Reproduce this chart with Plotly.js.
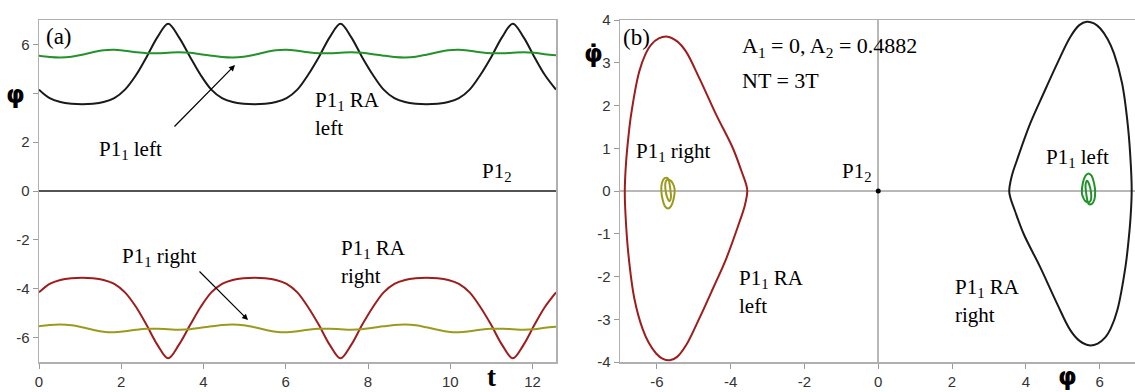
<!DOCTYPE html>
<html><head><meta charset="utf-8">
<script src="https://cdn.plot.ly/plotly-3.0.1.min.js"></script>
<style>html,body{margin:0;padding:0;background:#fff}#chart{width:1135px;height:392px}</style>
</head><body><div id="chart"></div>
<script>
// ---- Panel (a): time series, t in [0, 4*pi] ----
const tVals = [0.00,0.26,0.52,0.79,1.05,1.31,1.57,1.83,2.09,2.36,2.62,2.88,3.14,3.40,3.67,3.93,
  4.19,4.45,4.71,4.97,5.24,5.50,5.76,6.02,6.28,6.54,6.81,7.07,7.33,7.59,7.85,8.12,
  8.38,8.64,8.90,9.16,9.42,9.69,9.95,10.21,10.47,10.73,11.00,11.26,11.52,11.78,12.04,12.30,12.57];
const raLeft = [4.15,3.80,3.64,3.57,3.55,3.57,3.64,3.80,4.15,4.75,5.50,6.30,6.85,6.30,5.50,4.75,
  4.15,3.80,3.64,3.57,3.55,3.57,3.64,3.80,4.15,4.75,5.50,6.30,6.85,6.30,5.50,4.75,
  4.15,3.80,3.64,3.57,3.55,3.57,3.64,3.80,4.15,4.75,5.50,6.30,6.85,6.30,5.50,4.75,4.15];
const raRight = [-4.15,-3.80,-3.64,-3.57,-3.55,-3.57,-3.64,-3.80,-4.15,-4.75,-5.50,-6.30,-6.85,-6.30,-5.50,-4.75,
  -4.15,-3.80,-3.64,-3.57,-3.55,-3.57,-3.64,-3.80,-4.15,-4.75,-5.50,-6.30,-6.85,-6.30,-5.50,-4.75,
  -4.15,-3.80,-3.64,-3.57,-3.55,-3.57,-3.64,-3.80,-4.15,-4.75,-5.50,-6.30,-6.85,-6.30,-5.50,-4.75,-4.15];
const p1Left = [5.54,5.49,5.47,5.50,5.58,5.68,5.76,5.78,5.74,5.68,5.64,5.64,5.66,5.68,5.66,5.60,
  5.54,5.49,5.47,5.50,5.58,5.68,5.76,5.78,5.74,5.68,5.64,5.64,5.66,5.68,5.66,5.60,
  5.54,5.49,5.47,5.50,5.58,5.68,5.76,5.78,5.74,5.68,5.64,5.64,5.66,5.68,5.66,5.60,5.56];
const p1Right = [-5.54,-5.49,-5.47,-5.50,-5.58,-5.68,-5.76,-5.78,-5.74,-5.68,-5.64,-5.64,-5.66,-5.68,-5.66,-5.60,
  -5.54,-5.49,-5.47,-5.50,-5.58,-5.68,-5.76,-5.78,-5.74,-5.68,-5.64,-5.64,-5.66,-5.68,-5.66,-5.60,
  -5.54,-5.49,-5.47,-5.50,-5.58,-5.68,-5.76,-5.78,-5.74,-5.68,-5.64,-5.64,-5.66,-5.68,-5.66,-5.60,-5.56];
const p12T = [0, 12.57];
const p12Phi = [0, 0];

// ---- Panel (b): phase portrait ----
const raRightPhi = [3.55,3.62,3.76,4.12,4.48,4.85,5.21,5.45,5.65,5.85,6.02,6.22,6.39,6.61,6.77,6.85,6.87,
  6.84,6.78,6.70,6.48,6.30,6.16,5.95,5.71,5.45,5.21,4.85,4.39,3.94,3.70,3.58,3.55];
const raRightDot = [0.00,0.35,0.72,1.58,2.28,2.98,3.61,3.88,3.96,3.92,3.80,3.55,3.22,2.52,1.50,0.56,0.00,
  -0.61,-1.20,-1.78,-2.79,-3.22,-3.42,-3.57,-3.61,-3.50,-3.26,-2.64,-1.78,-1.00,-0.45,-0.15,0.00];
const raLeftPhi = [-3.55,-3.62,-3.76,-4.12,-4.48,-4.85,-5.21,-5.45,-5.65,-5.85,-6.02,-6.22,-6.39,-6.61,-6.77,-6.85,-6.87,
  -6.84,-6.78,-6.70,-6.48,-6.30,-6.16,-5.95,-5.71,-5.45,-5.21,-4.85,-4.39,-3.94,-3.70,-3.58,-3.55];
const raLeftDot = [0.00,-0.35,-0.72,-1.58,-2.28,-2.98,-3.61,-3.88,-3.96,-3.92,-3.80,-3.55,-3.22,-2.52,-1.50,-0.56,0.00,
  0.61,1.20,1.78,2.79,3.22,3.42,3.57,3.61,3.50,3.26,2.64,1.78,1.00,0.45,0.15,0.00];
const p1RightPhi = [-5.52,-5.55,-5.62,-5.70,-5.78,-5.85,-5.88,-5.86,-5.79,-5.70,-5.66,-5.63,-5.62,-5.66,-5.72,-5.77,-5.76,-5.70,-5.62,-5.56,-5.52];
const p1RightDot = [0.05,-0.20,-0.36,-0.41,-0.36,-0.18,0.02,0.20,0.30,0.30,0.18,0.00,-0.15,-0.24,-0.15,0.05,0.22,0.27,0.24,0.16,0.05];
const p1LeftPhi = [5.52,5.55,5.62,5.70,5.78,5.85,5.88,5.86,5.79,5.70,5.66,5.63,5.62,5.66,5.72,5.77,5.76,5.70,5.62,5.56,5.52];
const p1LeftDot = [-0.05,0.20,0.36,0.41,0.36,0.18,-0.02,-0.20,-0.30,-0.30,-0.18,0.00,0.15,0.24,0.15,-0.05,-0.22,-0.27,-0.24,-0.16,-0.05];
const p12Point = [0];

const xTicksA = [0,2,4,6,8,10,12];
const yTicksA = [-6,-4,-2,0,2,4,6];
const yTextA = ['-6','-4','-2','0','2','','6'];
const xTicksB = [-6,-4,-2,0,2,4,6];
const xTextB = ['-6','-4','-2','0','2','4','6'];
const yTicksB = [-4,-3,-2,-1,0,1,2,3,4];
const yTextB = ['-4','-3','-2','-1','0','1','2','3','4'];

const cBlack = '#1a1a1a', cRed = '#9e1c1c', cGreen = '#22932a', cOlive = '#9c9a1c';
const W = 1135, H = 392;
const px = x => x / W, py = y => 1 - y / H;

const ln = (c, w) => ({color: c, width: w, shape: 'spline', smoothing: 1});
const traces = [
  {x: p12T, y: p12Phi, mode: 'lines', line: {color: cBlack, width: 1.6}, xaxis: 'x', yaxis: 'y'},
  {x: tVals, y: raLeft, mode: 'lines', line: ln(cBlack, 2), xaxis: 'x', yaxis: 'y'},
  {x: tVals, y: p1Left, mode: 'lines', line: ln(cGreen, 2), xaxis: 'x', yaxis: 'y'},
  {x: tVals, y: raRight, mode: 'lines', line: ln(cRed, 2), xaxis: 'x', yaxis: 'y'},
  {x: tVals, y: p1Right, mode: 'lines', line: ln(cOlive, 2), xaxis: 'x', yaxis: 'y'},
  {x: raRightPhi, y: raRightDot, mode: 'lines', line: ln(cBlack, 2), xaxis: 'x2', yaxis: 'y2'},
  {x: raLeftPhi, y: raLeftDot, mode: 'lines', line: ln(cRed, 2), xaxis: 'x2', yaxis: 'y2'},
  {x: p1RightPhi, y: p1RightDot, mode: 'lines', line: ln(cOlive, 2), xaxis: 'x2', yaxis: 'y2'},
  {x: p1LeftPhi, y: p1LeftDot, mode: 'lines', line: ln(cGreen, 2), xaxis: 'x2', yaxis: 'y2'},
  {x: p12Point, y: p12Point, mode: 'markers', marker: {color: '#000', size: 5}, xaxis: 'x2', yaxis: 'y2'}
];

const tickFont = {family: 'Liberation Sans, Arial, sans-serif', size: 15, color: '#333'};
const axBase = {ticks: 'outside', ticklen: 5, tickcolor: '#999', tickwidth: 1, showline: true,
  linecolor: '#b0b0b0', linewidth: 1.5, mirror: true, showgrid: false, zeroline: false, tickfont: tickFont, fixedrange: true};
const yDom = [30 / H, 372 / H];

const serif = (s) => ({family: 'Liberation Serif, Times New Roman, serif', size: s, color: '#000'});
const txt = (text, x, y, size, anchor) => ({text: text, x: px(x), y: py(y), xref: 'paper', yref: 'paper',
  xanchor: anchor || 'left', yanchor: 'middle', showarrow: false, font: serif(size)});
const boldSans = (s) => ({family: 'DejaVu Sans, Liberation Sans, sans-serif', size: s, color: '#000', weight: 'bold'});

const annotations = [
  txt('(a)', 44, 37, 23),
  {text: '<b>φ</b>', x: px(15), y: py(95), xref: 'paper', yref: 'paper', xanchor: 'center', yanchor: 'middle', showarrow: false, font: boldSans(24)},
  txt('P1<sub>1</sub> left', 97, 150, 21),
  {text: '', x: px(235), y: py(65), xref: 'paper', yref: 'paper', ax: -62, ay: 63, axref: 'pixel', ayref: 'pixel',
   showarrow: true, arrowhead: 2, arrowsize: 1, arrowwidth: 1.2, arrowcolor: '#000'},
  txt('P1<sub>1</sub> RA', 313, 101, 21),
  txt('left', 313, 128, 21),
  txt('P1<sub>2</sub>', 480, 172, 21),
  txt('P1<sub>1</sub> right', 120, 257, 21),
  {text: '', x: px(248), y: py(320), xref: 'paper', yref: 'paper', ax: -50, ay: -50, axref: 'pixel', ayref: 'pixel',
   showarrow: true, arrowhead: 2, arrowsize: 1, arrowwidth: 1.2, arrowcolor: '#000'},
  txt('P1<sub>1</sub> RA', 339, 249, 21),
  txt('right', 339, 276, 21),
  {text: '<b>t</b>', x: px(491), y: py(377), xref: 'paper', yref: 'paper', xanchor: 'center', yanchor: 'middle', showarrow: false,
   font: {family: 'Liberation Serif, serif', size: 27, color: '#000', weight: 'bold'}},

  txt('(b)', 621, 38, 23),
  {text: '<b>φ\u0307</b>', x: px(593), y: py(54), xref: 'paper', yref: 'paper', xanchor: 'center', yanchor: 'middle', showarrow: false, font: boldSans(24)},
  txt('A<sub>1</sub> = 0, A<sub>2</sub> = 0.4882', 740, 47, 22),
  txt('NT = 3T', 740, 80, 22),
  txt('P1<sub>1</sub> right', 634, 152, 21),
  txt('P1<sub>2</sub>', 840, 172, 21),
  txt('P1<sub>1</sub> left', 1044, 158, 21),
  txt('P1<sub>1</sub> RA', 737, 279, 21),
  txt('left', 737, 306, 21),
  txt('P1<sub>1</sub> RA', 953, 288, 21),
  txt('right', 953, 315, 21),
  {text: '<b>φ</b>', x: px(1067), y: py(377), xref: 'paper', yref: 'paper', xanchor: 'center', yanchor: 'middle', showarrow: false, font: boldSans(24)}
];

const layout = {
  width: W, height: H, margin: {l: 0, r: 0, t: 0, b: 0}, showlegend: false,
  paper_bgcolor: '#fff', plot_bgcolor: '#fff',
  xaxis: Object.assign({}, axBase, {domain: [39 / W, 556 / W], range: [0, 12.57], tickvals: xTicksA, ticktext: xTicksA.map(String), anchor: 'y'}),
  yaxis: Object.assign({}, axBase, {domain: yDom, range: [-7, 7], tickvals: yTicksA, ticktext: yTextA, anchor: 'x'}),
  xaxis2: Object.assign({}, axBase, {domain: [620 / W, 1], range: [-7, 6.96], tickvals: xTicksB, ticktext: xTextB, anchor: 'y2',
    zeroline: true, zerolinecolor: '#b8b8b8', zerolinewidth: 1.5}),
  yaxis2: Object.assign({}, axBase, {domain: yDom, range: [-4, 4], tickvals: yTicksB, ticktext: yTextB, anchor: 'x2',
    zeroline: true, zerolinecolor: '#b8b8b8', zerolinewidth: 1.5}),
  annotations: annotations
};

Plotly.newPlot('chart', traces, layout, {displayModeBar: false, staticPlot: true});
</script></body></html>
